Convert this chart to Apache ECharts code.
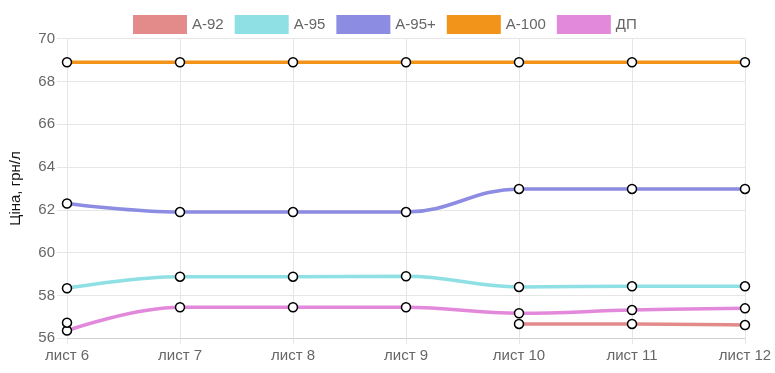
<!DOCTYPE html>
<html>
<head>
<meta charset="utf-8">
<script src="https://cdn.jsdelivr.net/npm/echarts@6/dist/echarts.min.js"></script>
<style>html,body{margin:0;padding:0;background:#fff}#c{width:775px;height:373px}</style>
</head>
<body>
<div id="c"></div>
<script>
const categories = ['лист 6','лист 7','лист 8','лист 9','лист 10','лист 11','лист 12'];
const seriesNames = ['А-92','А-95','А-95+','А-100','ДП'];
const a92  = [56.73, null, null, null, 56.67, 56.67, 56.62];
const a95  = [58.34, 58.88, 58.88, 58.9, 58.4, 58.43, 58.43];
const a95p = [62.3, 61.9, 61.9, 61.9, 62.98, 62.98, 62.98];
const a100 = [68.9, 68.9, 68.9, 68.9, 68.9, 68.9, 68.9];
const dp   = [56.36, 57.45, 57.45, 57.45, 57.17, 57.32, 57.4];
const yTicks = {min: 56, max: 70, interval: 2};
const axisTitle = 'Ціна, грн/л';

const colors = ['#e38b8b','#8ee0e4','#8c8ce2','#f3941a','#e389dc'];
const dataSets = [a92, a95, a95p, a100, dp];
const font = 'Liberation Sans, Arial, sans-serif';

const chart = echarts.init(document.getElementById('c'));
chart.setOption({
  animation: false,
  color: colors,
  textStyle: {fontFamily: font},
  legend: {
    top: 10,
    left: 128,
    itemWidth: 54,
    itemHeight: 19,
    itemGap: 11,
    icon: 'rect',
    textStyle: {color: '#666', fontSize: 15, fontFamily: font},
    data: seriesNames.map((n, i) => ({name: n, itemStyle: {color: colors[i], borderColor: colors[i], borderWidth: 0}}))
  },
  grid: {left: 65, right: 30, top: 38.7, bottom: 34.7},
  xAxis: {
    type: 'category',
    data: categories,
    boundaryGap: false,
    axisLine: {lineStyle: {color: '#d0d0d0'}},
    axisTick: {show: true, length: 6, lineStyle: {color: '#e6e6e6'}},
    axisLabel: {color: '#666', fontSize: 15, margin: 10, fontFamily: font},
    splitLine: {show: true, lineStyle: {color: '#e6e6e6'}}
  },
  yAxis: {
    type: 'value',
    min: yTicks.min, max: yTicks.max, interval: yTicks.interval,
    name: axisTitle,
    nameLocation: 'middle',
    nameGap: 44,
    nameTextStyle: {color: '#111', fontSize: 15, fontFamily: font},
    axisLine: {show: true, lineStyle: {color: '#e6e6e6'}},
    axisTick: {show: true, length: 10, lineStyle: {color: '#e6e6e6'}},
    axisLabel: {color: '#666', fontSize: 15, margin: 12, fontFamily: font},
    splitLine: {show: true, lineStyle: {color: '#e6e6e6'}}
  },
  series: seriesNames.map((n, i) => ({
    name: n,
    type: 'line',
    data: dataSets[i],
    smooth: 0.4,
    connectNulls: false,
    showAllSymbol: true,
    symbol: 'circle',
    symbolSize: 9,
    z: 10 - i,
    lineStyle: {width: 3.5, color: colors[i]},
    itemStyle: {color: '#fff', borderColor: '#000', borderWidth: 1.5}
  }))
});
</script>
</body>
</html>
